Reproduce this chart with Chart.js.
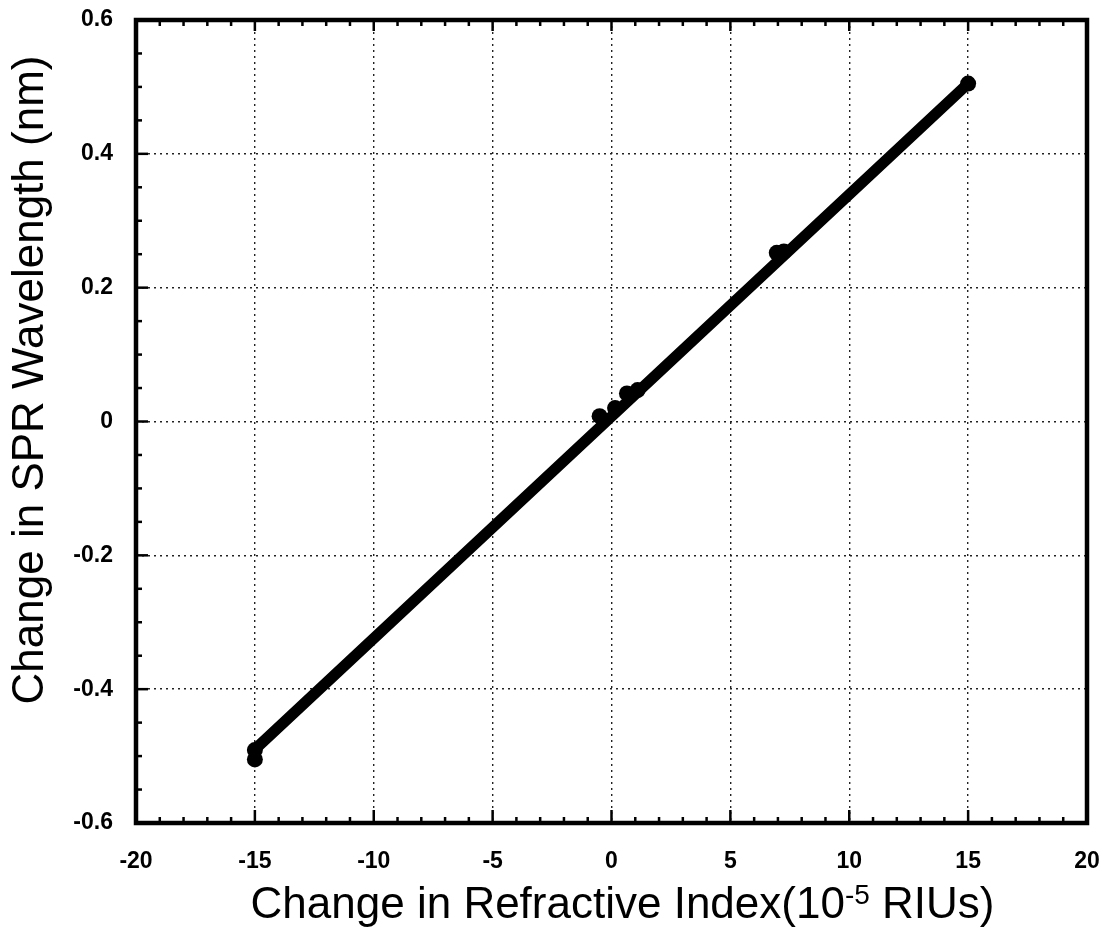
<!DOCTYPE html>
<html>
<head>
<meta charset="utf-8">
<script src="https://cdn.jsdelivr.net/npm/chart.js@4/dist/chart.umd.min.js"></script>
<style>
  html, body { margin: 0; padding: 0; background: #fff; }
  #wrap { width: 1113px; height: 937px; position: relative; }
</style>
</head>
<body>
<div id="wrap"><canvas id="c"></canvas></div>
<script>
// Measured points: refractive index change (1e-5 RIU) vs SPR wavelength shift (nm)
const pointX = [-15, -15, -0.5, 0.15, 0.65, 1.1, 6.95, 7.25, 15];
const pointY = [-0.491, -0.505, 0.008, 0.02, 0.042, 0.047, 0.252, 0.254, 0.505];

// Linear fit through the measurements
const fitX = [-15, 15];
const fitY = [-0.49, 0.505];

// Axis ticks
const xTicks = [-20, -15, -10, -5, 0, 5, 10, 15, 20];
const xTickLabels = ['-20', '-15', '-10', '-5', '0', '5', '10', '15', '20'];
const yTicks = [-0.6, -0.4, -0.2, 0, 0.2, 0.4, 0.6];
const yTickLabels = ['-0.6', '-0.4', '-0.2', '0', '0.2', '0.4', '0.6'];
const xMinorStep = 1;
const yMinorStep = 0.05;

// Axis titles
const xTitleParts = ['Change in Refractive Index(10', '-5', ' RIUs)'];
const yTitle = 'Change in SPR Wavelength (nm)';

const FONT = "'Liberation Sans', Arial, Helvetica, sans-serif";

const toXY = (xs, ys) => xs.map((x, i) => ({ x: x, y: ys[i] }));

// Closed frame with inward tick marks, plus the axis titles
const framePlugin = {
  id: 'frame',
  afterDraw(chart) {
    const { ctx, chartArea: a, scales } = chart;
    const xs = scales.x, ys = scales.y;
    ctx.save();
    ctx.strokeStyle = '#000';
    ctx.lineCap = 'butt';

    // inward ticks on bottom and top
    ctx.lineWidth = 2.5;
    const xMin = xs.min, xMax = xs.max;
    const nx = Math.round((xMax - xMin) / xMinorStep);
    for (let i = 1; i < nx; i++) {
      const v = xMin + i * xMinorStep;
      const major = xTicks.some(t => Math.abs(t - v) < 1e-9);
      const px = xs.getPixelForValue(v);
      const lb = major ? 13 : 6;
      const lt = major ? 11 : 6;
      ctx.beginPath();
      ctx.moveTo(px, a.bottom); ctx.lineTo(px, a.bottom - lb);
      ctx.moveTo(px, a.top); ctx.lineTo(px, a.top + lt);
      ctx.stroke();
    }
    // inward ticks on left
    const ny = Math.round((ys.max - ys.min) / yMinorStep);
    for (let i = 1; i < ny; i++) {
      const v = ys.min + i * yMinorStep;
      const major = yTicks.some(t => Math.abs(t - v) < 1e-9);
      const py = ys.getPixelForValue(v);
      const l = major ? 12 : 6;
      ctx.beginPath();
      ctx.moveTo(a.left, py); ctx.lineTo(a.left + l, py);
      ctx.stroke();
    }

    // frame
    ctx.lineWidth = 4.5;
    ctx.lineJoin = 'miter';
    ctx.strokeRect(a.left, a.top, a.right - a.left, a.bottom - a.top);

    // x title with superscript exponent
    ctx.fillStyle = '#000';
    ctx.textBaseline = 'alphabetic';
    ctx.textAlign = 'left';
    const mainFont = '44px ' + FONT;
    const supFont = '28px ' + FONT;
    ctx.font = mainFont;
    const w0 = ctx.measureText(xTitleParts[0]).width;
    const w2 = ctx.measureText(xTitleParts[2]).width;
    ctx.font = supFont;
    const w1 = ctx.measureText(xTitleParts[1]).width;
    const total = w0 + w1 + w2;
    const cx = (a.left + a.right) / 2 + 11;
    let tx = cx - total / 2;
    const base = 918;
    ctx.font = mainFont;
    ctx.fillText(xTitleParts[0], tx, base);
    tx += w0;
    ctx.font = supFont;
    ctx.fillText(xTitleParts[1], tx, base - 14);
    tx += w1;
    ctx.font = mainFont;
    ctx.fillText(xTitleParts[2], tx, base);

    // y title, rotated
    ctx.translate(43, 380);
    ctx.rotate(-Math.PI / 2);
    ctx.textAlign = 'center';
    ctx.font = mainFont;
    ctx.fillText(yTitle, 0, 0);
    ctx.restore();
  }
};

// Keep tick-label overflow from shrinking the plot area
function noOverflow(scale) {
  scale.paddingTop = 0;
  scale.paddingBottom = 0;
  scale.paddingLeft = 0;
  scale.paddingRight = 0;
}

new Chart(document.getElementById('c'), {
  type: 'scatter',
  data: {
    datasets: [
      {
        label: 'Measured',
        data: toXY(pointX, pointY),
        showLine: false,
        pointRadius: 8,
        pointHoverRadius: 8,
        pointBackgroundColor: '#000',
        pointBorderColor: '#000',
        pointBorderWidth: 0,
        order: 1
      },
      {
        label: 'Fit',
        data: toXY(fitX, fitY),
        showLine: true,
        borderColor: '#000',
        borderWidth: 11,
        borderCapStyle: 'round',
        pointRadius: 0,
        order: 2
      }
    ]
  },
  options: {
    responsive: true,
    maintainAspectRatio: false,
    animation: false,
    events: [],
    layout: { padding: { top: 20, right: 26, left: 0, bottom: 0 } },
    plugins: {
      legend: { display: false },
      tooltip: { enabled: false },
      title: { display: false }
    },
    scales: {
      x: {
        type: 'linear',
        min: -20,
        max: 20,
        afterBuildTicks(scale) { scale.ticks = xTicks.map(v => ({ value: v })); },
        afterFit(scale) { scale.height = 114; noOverflow(scale); },
        ticks: {
          padding: 25,
          color: '#000',
          font: { family: FONT, size: 23, weight: 'bold' },
          callback: (v) => xTickLabels[xTicks.indexOf(v)],
          maxRotation: 0,
          autoSkip: false
        },
        grid: {
          drawTicks: false,
          color: (c) => (c.tick && (c.tick.value === -20 || c.tick.value === 20)) ? 'rgba(0,0,0,0)' : '#222',
          lineWidth: 1.4
        },
        border: { display: false, dash: [2, 4] },
        title: { display: false }
      },
      y: {
        type: 'linear',
        min: -0.6,
        max: 0.6,
        afterBuildTicks(scale) { scale.ticks = yTicks.map(v => ({ value: v })); },
        afterFit(scale) { scale.width = 136; noOverflow(scale); },
        ticks: {
          padding: 23,
          color: '#000',
          font: { family: FONT, size: 23, weight: 'bold' },
          callback: (v) => {
            const i = yTicks.findIndex(t => Math.abs(t - v) < 1e-9);
            return i >= 0 ? yTickLabels[i] : '';
          },
          autoSkip: false
        },
        grid: {
          drawTicks: false,
          color: (c) => (c.tick && Math.abs(Math.abs(c.tick.value) - 0.6) < 1e-9) ? 'rgba(0,0,0,0)' : '#222',
          lineWidth: 1.4
        },
        border: { display: false, dash: [2, 4] },
        title: { display: false }
      }
    }
  },
  plugins: [framePlugin]
});
</script>
</body>
</html>
